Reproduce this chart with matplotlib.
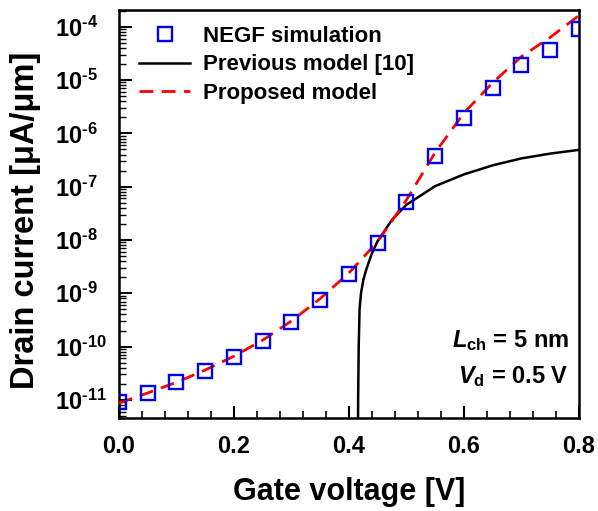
import numpy as np
import matplotlib
matplotlib.use('Agg')
import matplotlib.pyplot as plt
from matplotlib.ticker import MultipleLocator, LogLocator, FixedLocator, NullFormatter

plt.rcParams['font.family'] = ['Liberation Sans', 'DejaVu Sans']
plt.rcParams['font.weight'] = 'bold'
plt.rcParams['mathtext.fontset'] = 'custom'
plt.rcParams['mathtext.rm'] = 'Liberation Sans:bold'
plt.rcParams['mathtext.bf'] = 'Liberation Sans:bold'
plt.rcParams['mathtext.it'] = 'Liberation Sans:bold:italic'

# NEGF simulation points (log10 of current)
vg_negf = [0.0, 0.05, 0.1, 0.15, 0.2, 0.25, 0.3, 0.35, 0.4,
           0.45, 0.5, 0.55, 0.6, 0.65, 0.7, 0.75, 0.8]
log_negf = [-11.04, -10.87, -10.67, -10.45, -10.19, -9.89, -9.53, -9.12, -8.64,
            -8.05, -7.29, -6.42, -5.72, -5.15, -4.72, -4.43, -4.04]

# proposed model (red dashed)
vg_prop = [0.0, 0.05, 0.1, 0.15, 0.2, 0.25, 0.3, 0.35, 0.4,
           0.45, 0.5, 0.55, 0.6, 0.65, 0.7, 0.75, 0.8]
log_prop = [-11.06, -10.87, -10.67, -10.44, -10.18, -9.88, -9.52, -9.1, -8.62,
            -8.03, -7.25, -6.36, -5.62, -5.05, -4.56, -4.2, -3.79]

# previous model [10] (black solid)
vg_prev = [0.4155, 0.416, 0.417, 0.4185, 0.421, 0.425, 0.43, 0.44, 0.45,
           0.475, 0.5, 0.55, 0.6, 0.65, 0.7, 0.75, 0.8]
log_prev = [-12.0, -11.0, -10.0, -9.3, -9.0, -8.75, -8.56, -8.25, -8.02,
            -7.62, -7.34, -6.99, -6.77, -6.6, -6.47, -6.38, -6.31]

fig = plt.figure(figsize=(5.98, 5.11), dpi=100)
ax = fig.add_axes([0.199, 0.182, 0.769, 0.798])

ax.plot(vg_negf, 10**np.array(log_negf), 's', mfc='none', mec='#0000ee', ms=10.5, mew=1.7,
        label='NEGF simulation', zorder=4)
ax.plot(vg_prev, 10**np.array(log_prev), '-', color='black', lw=1.8, label='Previous model [10]')
ax.plot(vg_prop, 10**np.array(log_prop), '--', color='#ff0000', lw=2.0, dashes=(5, 3),
        label='Proposed model', zorder=3)

ax.set_yscale('log')
ax.set_xlim(0, 0.8)
ax.set_ylim(10**-11.34, 10**-3.69)

ax.xaxis.set_major_locator(MultipleLocator(0.2))
ax.xaxis.set_minor_locator(MultipleLocator(0.04))
ax.xaxis.set_major_formatter(plt.FuncFormatter(lambda v, p: '%.1f' % v))
ax.yaxis.set_major_locator(FixedLocator([10.0**k for k in range(-11, -3)]))
ax.yaxis.set_major_formatter(plt.FuncFormatter(
    lambda v, p: r'$10^{\text{-}%d}$' % abs(int(round(np.log10(v))))))
ax.yaxis.set_minor_locator(LogLocator(base=10, subs=np.arange(2, 10), numticks=20))
ax.yaxis.set_minor_formatter(NullFormatter())

ax.tick_params(which='both', direction='in', top=False, right=False, labelsize=17)
ax.tick_params(axis='x', which='major', length=9, width=1.5, pad=12)
ax.tick_params(axis='x', which='minor', length=5, width=1.2)
ax.tick_params(axis='y', which='major', length=9, width=1.5, pad=46)
ax.tick_params(axis='y', which='minor', length=5, width=1.0)
for lab in ax.get_yticklabels():
    lab.set_horizontalalignment('left')
for s in ax.spines.values():
    s.set_linewidth(1.8)

ax.set_xlabel('Gate voltage [V]', fontsize=22, fontweight='bold', labelpad=14)
ax.set_ylabel('Drain current [\u03bcA/\u03bcm]', fontsize=23.5, fontweight='bold')
ax.yaxis.set_label_coords(-0.17, 0.485)

ax.legend(loc='upper left', bbox_to_anchor=(0.0, 1.01), frameon=False, fontsize=16,
          numpoints=1, handlelength=2.3, handletextpad=0.6, labelspacing=0.33)

ax.text(0.978, 0.175, r'$L_{\mathrm{ch}}$ = 5 nm', transform=ax.transAxes, ha='right',
        fontsize=17, fontweight='bold')
ax.text(0.978, 0.085, r'$V_{\mathrm{d}}$ = 0.5 V', transform=ax.transAxes, ha='right',
        fontsize=17, fontweight='bold')

fig.savefig('out.png', dpi=100)
